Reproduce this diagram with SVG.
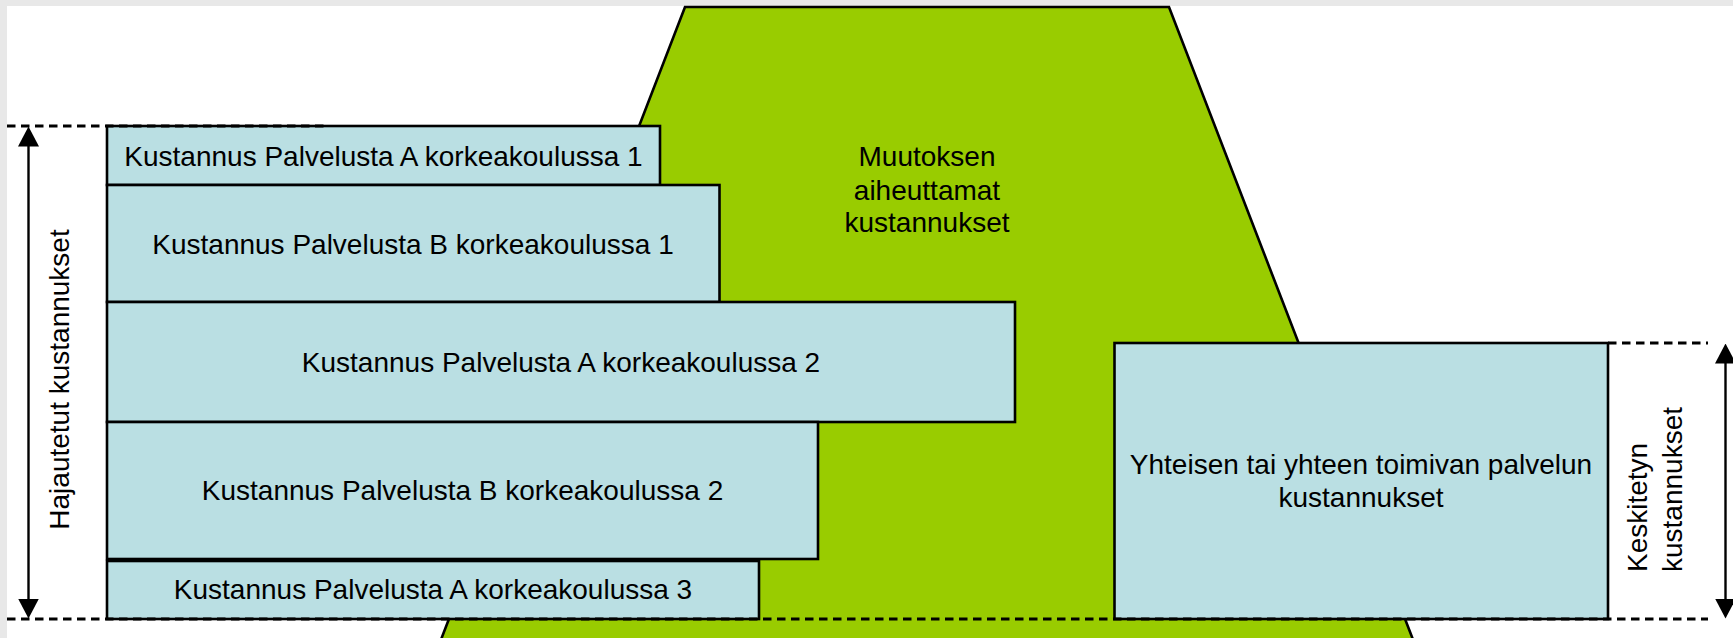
<svg xmlns="http://www.w3.org/2000/svg" width="1733" height="638" viewBox="0 0 1733 638">
  <style>
    .box { fill: #BADFE3; stroke: #000; stroke-width: 2.6; }
    .lbl { font-family: "Liberation Sans", Arial, sans-serif; font-size: 28px; fill: #000; text-anchor: middle; }
    .vlbl { font-family: "Liberation Sans", Arial, sans-serif; font-size: 28px; fill: #000; }
    .dash { stroke: #000; stroke-width: 2.8; stroke-dasharray: 8.5 5.5; fill: none; }
    .arrow { stroke: #000; stroke-width: 2.4; fill: none; marker-start: url(#head); marker-end: url(#head); }
  </style>
  <defs>
    <marker id="head" viewBox="0 0 20 21" markerWidth="20" markerHeight="21" refX="10" refY="10.5" orient="auto-start-reverse" markerUnits="userSpaceOnUse">
      <path d="M0,0 L20,10.5 L0,21 z" fill="#000"/>
    </marker>
  </defs>

  <rect x="0" y="0" width="1733" height="638" fill="#E8E8E8"/>
  <rect x="7" y="6" width="1726" height="632" fill="#FFFFFF"/>

  <g id="muutos">
    <polygon points="685,7 1169,7 1417,650 437,650" fill="#99CC00" stroke="#000" stroke-width="2.6"/>
    <text class="lbl" x="927" y="166">Muutoksen</text>
    <text class="lbl" x="927" y="200">aiheuttamat</text>
    <text class="lbl" x="927" y="232">kustannukset</text>
  </g>

  <g id="a1">
    <rect class="box" x="107" y="126" width="553" height="59"/>
    <text class="lbl" x="383.5" y="166">Kustannus Palvelusta A korkeakoulussa 1</text>
  </g>
  <g id="b1">
    <rect class="box" x="107" y="185" width="612.5" height="117"/>
    <text class="lbl" x="413" y="253.5">Kustannus Palvelusta B korkeakoulussa 1</text>
  </g>
  <g id="a2">
    <rect class="box" x="107" y="302" width="908" height="120"/>
    <text class="lbl" x="561" y="371.5">Kustannus Palvelusta A korkeakoulussa 2</text>
  </g>
  <g id="b2">
    <rect class="box" x="107" y="422" width="711" height="137"/>
    <text class="lbl" x="462.5" y="500">Kustannus Palvelusta B korkeakoulussa 2</text>
  </g>
  <g id="a3">
    <rect class="box" x="107" y="561" width="652" height="58"/>
    <text class="lbl" x="433" y="599">Kustannus Palvelusta A korkeakoulussa 3</text>
  </g>
  <g id="yhteinen">
    <rect class="box" x="1114.5" y="343" width="493.5" height="276"/>
    <text class="lbl" x="1361" y="474">Yhteisen tai yhteen toimivan palvelun</text>
    <text class="lbl" x="1361" y="507">kustannukset</text>
  </g>

  <g id="guides">
    <line class="dash" x1="7" y1="126" x2="325" y2="126"/>
    <line class="dash" x1="7" y1="619" x2="1708" y2="619"/>
    <line class="dash" x1="1608" y1="343" x2="1708" y2="343"/>
  </g>

  <g id="connectors">
    <line class="arrow" x1="28.5" y1="136.5" x2="28.5" y2="608.5"/>
    <line class="arrow" x1="1725.5" y1="353.5" x2="1725.5" y2="608.5"/>
  </g>

  <g id="hajautetut">
    <text class="vlbl" text-anchor="middle" transform="translate(69,379.5) rotate(-90)">Hajautetut kustannukset</text>
  </g>
  <g id="keskitetyn">
    <text class="vlbl" transform="translate(1647,572) rotate(-90)">Keskitetyn</text>
    <text class="vlbl" transform="translate(1681.5,572) rotate(-90)">kustannukset</text>
  </g>
</svg>
